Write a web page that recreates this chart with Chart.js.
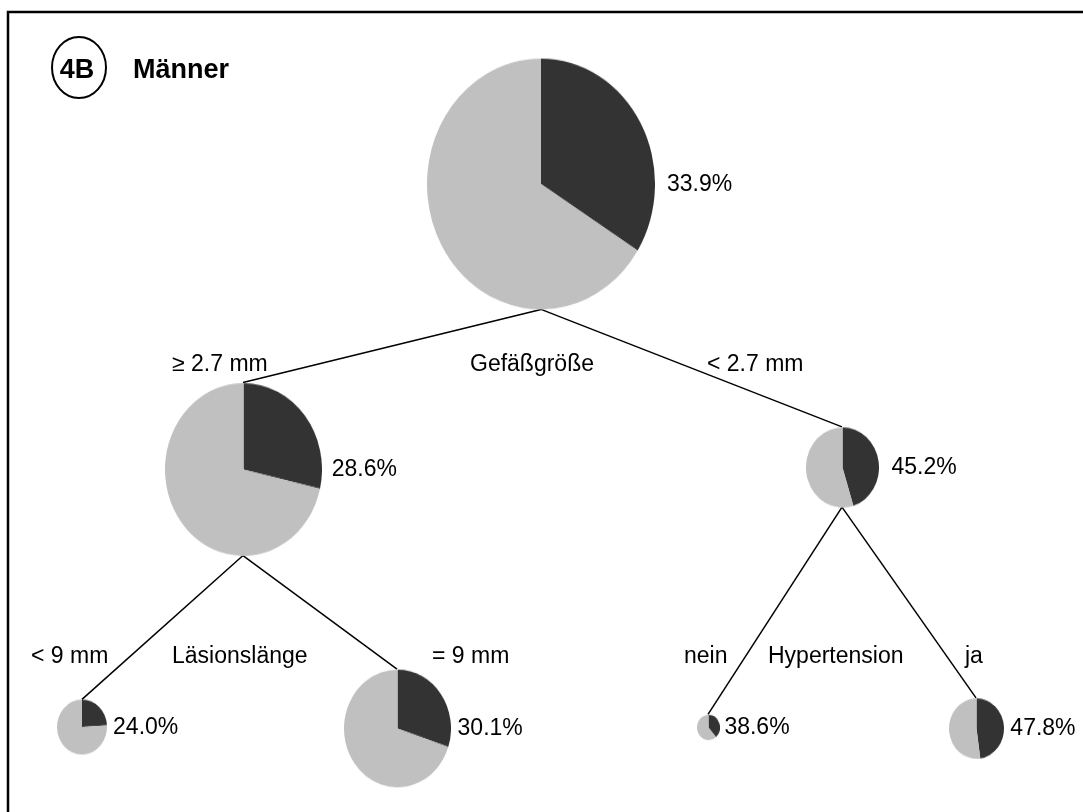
<!DOCTYPE html>
<html>
<head>
<meta charset="utf-8">
<script src="https://cdn.jsdelivr.net/npm/chart.js@4.4.1/dist/chart.umd.min.js"></script>
<style>
    body { margin: 0; background: #fff; }
    #wrap { position: relative; width: 1083px; height: 812px; overflow: hidden; }
    #tree { position: absolute; left: 0; top: 0; }
    .pie { position: absolute; transform-origin: 50% 50%; }
</style>
</head>
<body>
<div id="wrap">
    <canvas id="tree" width="1083" height="812"></canvas>
</div>
<script>
// Daten des Baums (Männer)
const nodeNames = ['Alle', '≥ 2.7 mm', '< 2.7 mm', '< 9 mm', '= 9 mm', 'nein', 'ja'];
const parentIndex = [-1, 0, 0, 1, 1, 2, 2];
const positiveShare = [33.9, 28.6, 45.2, 24.0, 30.1, 38.6, 47.8];
const groupSize = [100, 69, 32, 22, 47, 10, 24];
const splitVariables = ['Gefäßgröße', 'Läsionslänge', 'Hypertension'];
const splitParents = [0, 1, 2];

// Layout (Pixel-Einheiten der versteckten Achsen)
const nodeX = [541, 243, 842, 82, 397, 708, 976];
const nodeY = [184, 469, 467, 727, 728, 727, 728];
const pctGap = [12, 10, 13, 6, 7, 5, 7];
const branchLabelX = [172, 707, 31, 432, 684, 965];
const branchLabelY = [365, 365, 657, 657, 657, 657];
const splitLabelX = [470, 172, 768];
const splitLabelY = [365, 657, 657];
const radiusPerUnit = 1.14;
const stretchY = 1.1;

const DARK = '#333333';
const LIGHT = '#c0c0c0';
const FONT = '23px "Liberation Sans", Arial, sans-serif';

const rx = groupSize.map(s => s * radiusPerUnit);
const ry = rx.map(r => r * stretchY);

const edgeSets = [];
parentIndex.forEach((p, i) => {
    if (p < 0) return;
    edgeSets.push({
        data: [{ x: nodeX[p], y: nodeY[p] + ry[p] }, { x: nodeX[i], y: nodeY[i] - ry[i] }],
        showLine: true,
        borderColor: '#000',
        borderWidth: 1.5,
        pointRadius: 0
    });
});

const labelPlugin = {
    id: 'treeLabels',
    afterDatasetsDraw(chart) {
        const ctx = chart.ctx;
        const xs = chart.scales.x, ys = chart.scales.y;
        ctx.save();

        // Rahmen (oben und links)
        ctx.strokeStyle = '#000';
        ctx.lineWidth = 2.5;
        ctx.beginPath();
        ctx.moveTo(xs.getPixelForValue(8), ys.getPixelForValue(812));
        ctx.lineTo(xs.getPixelForValue(8), ys.getPixelForValue(12));
        ctx.lineTo(xs.getPixelForValue(1083), ys.getPixelForValue(12));
        ctx.stroke();

        // Panel-Kennung
        ctx.lineWidth = 2;
        ctx.beginPath();
        ctx.ellipse(xs.getPixelForValue(79), ys.getPixelForValue(67.5), 27, 30.5, 0, 0, Math.PI * 2);
        ctx.stroke();
        ctx.fillStyle = '#000';
        ctx.font = 'bold 27px "Liberation Sans", Arial, sans-serif';
        ctx.textBaseline = 'middle';
        ctx.textAlign = 'center';
        ctx.fillText('4B', xs.getPixelForValue(77), ys.getPixelForValue(71));
        ctx.textAlign = 'left';
        ctx.fillText('Männer', xs.getPixelForValue(133), ys.getPixelForValue(71));

        ctx.font = FONT;
        positiveShare.forEach((p, i) => {
            ctx.fillText(p.toFixed(1) + '%', xs.getPixelForValue(nodeX[i] + rx[i] + pctGap[i]), ys.getPixelForValue(nodeY[i] + 1));
        });
        nodeNames.slice(1).forEach((name, i) => {
            ctx.fillText(name, xs.getPixelForValue(branchLabelX[i]), ys.getPixelForValue(branchLabelY[i]));
        });
        splitVariables.forEach((name, i) => {
            ctx.fillText(name, xs.getPixelForValue(splitLabelX[i]), ys.getPixelForValue(splitLabelY[i]));
        });
        ctx.restore();
    }
};

const tree = new Chart(document.getElementById('tree'), {
    type: 'scatter',
    data: { datasets: edgeSets },
    options: {
        responsive: false,
        animation: false,
        events: [],
        layout: { padding: 0 },
        plugins: { legend: { display: false }, tooltip: { enabled: false } },
        scales: {
            x: { type: 'linear', min: 0, max: 1083, display: false },
            y: { type: 'linear', min: 0, max: 812, reverse: true, display: false }
        }
    },
    plugins: [labelPlugin]
});

// Kreisdiagramme an den Knoten
const wrap = document.getElementById('wrap');
positiveShare.forEach((p, i) => {
    const size = Math.round(rx[i] * 2);
    const cx = tree.scales.x.getPixelForValue(nodeX[i]);
    const cy = tree.scales.y.getPixelForValue(nodeY[i]);
    const div = document.createElement('div');
    div.className = 'pie';
    div.style.left = (cx - size / 2) + 'px';
    div.style.top = (cy - size / 2) + 'px';
    div.style.width = size + 'px';
    div.style.height = size + 'px';
    div.style.transform = 'scaleY(' + stretchY + ')';
    const cv = document.createElement('canvas');
    cv.width = size;
    cv.height = size;
    div.appendChild(cv);
    wrap.appendChild(div);
    new Chart(cv, {
        type: 'pie',
        data: {
            labels: ['ja', 'nein'],
            datasets: [{
                data: [p, 100 - p],
                backgroundColor: [DARK, LIGHT],
                borderWidth: 0,
                hoverOffset: 0
            }]
        },
        options: {
            responsive: false,
            animation: false,
            events: [],
            layout: { padding: 0 },
            plugins: { legend: { display: false }, tooltip: { enabled: false } }
        }
    });
});
</script>
</body>
</html>
